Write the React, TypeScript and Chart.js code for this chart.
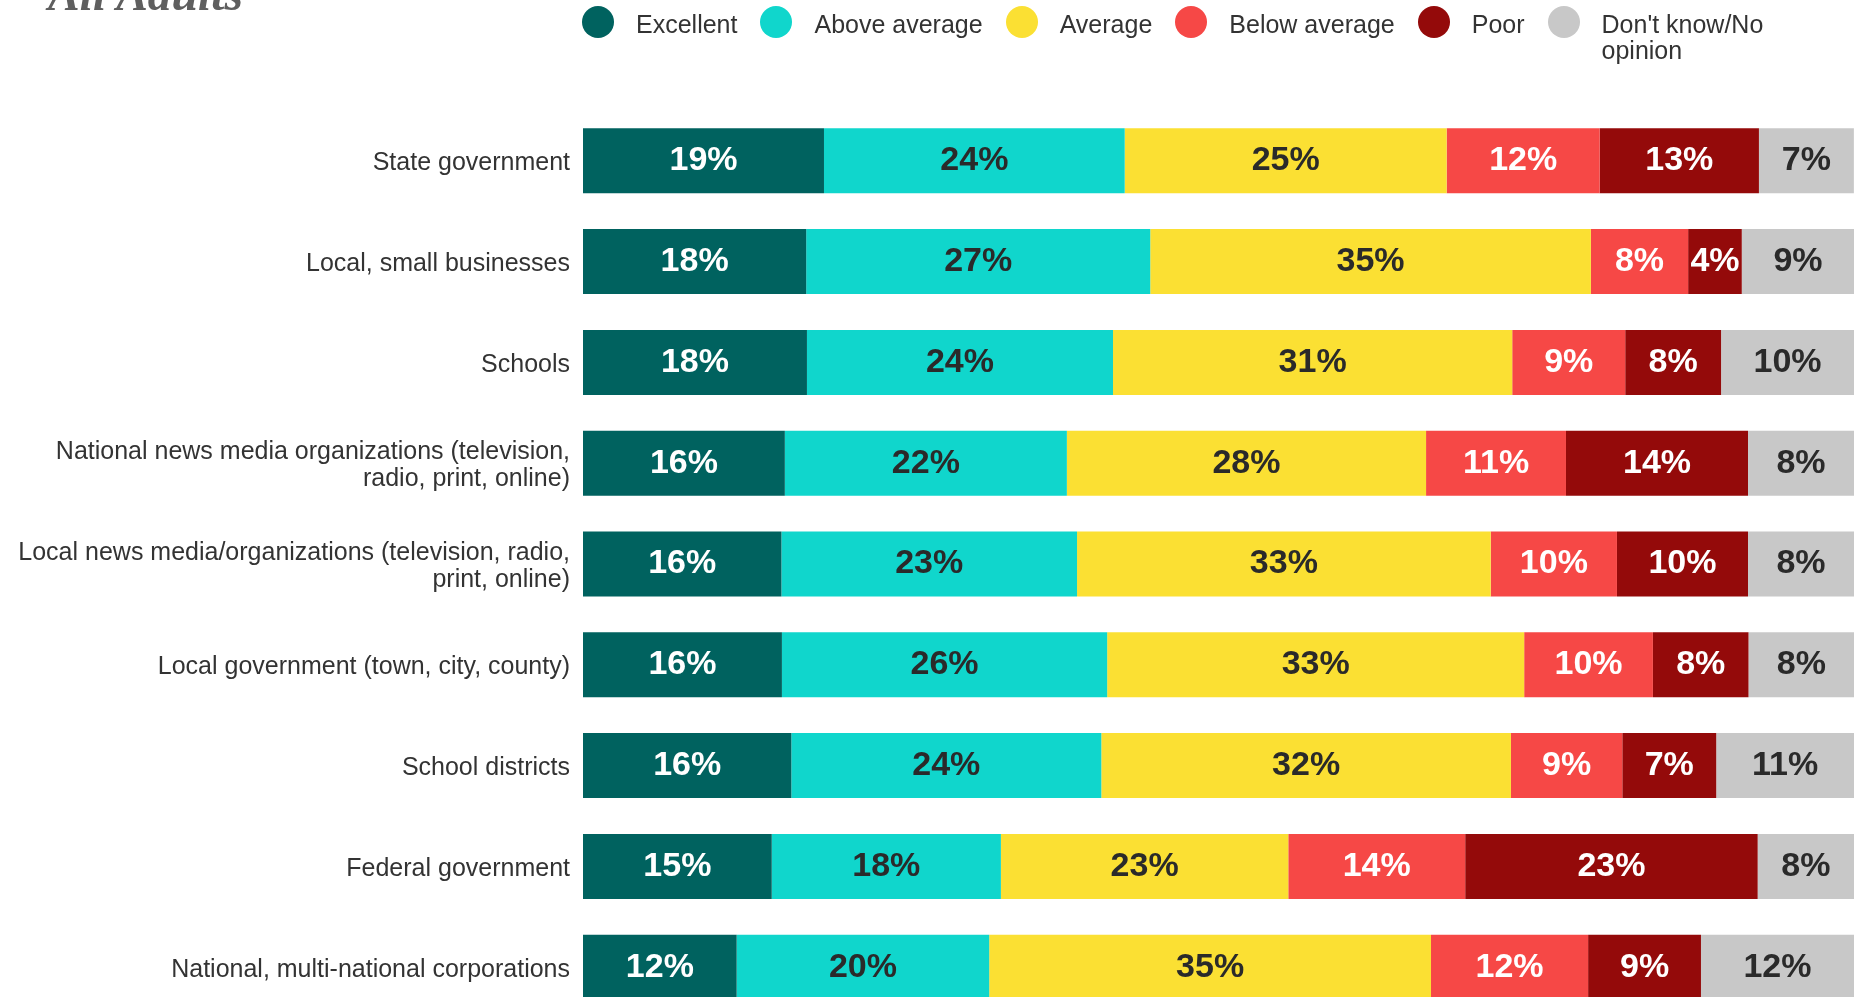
import React, { useEffect, useRef } from "react";
import { Chart, registerables } from "chart.js";

Chart.register(...registerables);

const categories: (string | string[])[] = [
  "State government",
  "Local, small businesses",
  "Schools",
  ["National news media organizations (television,", "radio, print, online)"],
  ["Local news media/organizations (television, radio,", "print, online)"],
  "Local government (town, city, county)",
  "School districts",
  "Federal government",
  "National, multi-national corporations",
];

const seriesNames = ["Excellent", "Above average", "Average", "Below average", "Poor", "Don't know/No opinion"];

const excellent = [18.96, 17.56, 17.62, 15.88, 15.61, 15.65, 16.39, 14.85, 12.09];
const aboveAverage = [23.66, 27.07, 24.08, 22.19, 23.26, 25.59, 24.39, 18.03, 19.87];
const average = [25.33, 34.67, 31.41, 28.26, 32.55, 32.81, 32.23, 22.61, 34.76];
const belowAverage = [12.04, 7.65, 8.89, 11.01, 9.93, 10.13, 8.76, 13.92, 12.36];
const poor = [12.53, 4.22, 7.54, 14.32, 10.31, 7.52, 7.39, 23.01, 8.88];
const dontKnow = [7.47, 8.84, 10.46, 8.34, 8.34, 8.32, 10.84, 7.58, 12.04];

const seriesColors = ["#00625F", "#10D6CC", "#FBE033", "#F64846", "#940A0A", "#C8C8C8"];
const labelColors = ["#FFFFFF", "#2A2A2A", "#2A2A2A", "#FFFFFF", "#FFFFFF", "#2A2A2A"];

const FONT = '"Liberation Sans", Arial, Helvetica, sans-serif';

const barLabelPlugin = {
  id: "barLabels",
  afterDatasetsDraw(chart: any) {
    const ctx = chart.ctx;
    ctx.save();
    ctx.font = `bold 34px ${FONT}`;
    ctx.textAlign = "center";
    ctx.textBaseline = "middle";
    chart.data.datasets.forEach((ds: any, di: number) => {
      const meta = chart.getDatasetMeta(di);
      if (meta.hidden) return;
      meta.data.forEach((el: any, i: number) => {
        const v = ds.data[i];
        const cx = (el.x + el.base) / 2;
        ctx.fillStyle = labelColors[di];
        ctx.fillText(`${Math.round(v)}%`, cx, el.y);
      });
    });
    ctx.restore();
  },
};

export default function App() {
  const canvasRef = useRef<HTMLCanvasElement | null>(null);

  useEffect(() => {
    if (!canvasRef.current) return;
    const all = [excellent, aboveAverage, average, belowAverage, poor, dontKnow];
    const chart = new Chart(canvasRef.current, {
      type: "bar",
      data: {
        labels: categories as any,
        datasets: all.map((d, i) => ({
          label: seriesNames[i],
          data: d,
          backgroundColor: seriesColors[i],
          borderWidth: 0,
          barPercentage: 1,
          categoryPercentage: 0.6446,
        })),
      },
      options: {
        indexAxis: "y",
        responsive: false,
        animation: false,
        devicePixelRatio: 1,
        layout: { padding: { top: 110.4, right: 7, bottom: 27.4, left: 0 } },
        plugins: {
          legend: { display: false },
          title: { display: false },
          tooltip: { enabled: false },
        },
        scales: {
          x: {
            type: "linear",
            stacked: true,
            min: 0,
            max: 100,
            display: false,
          },
          y: {
            stacked: true,
            grid: { display: false, drawTicks: false },
            border: { display: false },
            ticks: {
              padding: 13,
              labelOffset: 2.5,
              color: "#333333",
              font: { family: FONT, size: 25, lineHeight: 1.1 },
            },
            afterFit(scale: any) {
              scale.width = 583;
            },
          },
        },
      } as any,
      plugins: [barLabelPlugin],
    });
    return () => chart.destroy();
  }, []);

  return (
    <div
      style={{
        position: "absolute",
        top: 0,
        left: 0,
        width: 1861,
        height: 997,
        overflow: "hidden",
        background: "#ffffff",
      }}
    >
      <canvas
        ref={canvasRef}
        width={1861}
        height={1045}
        style={{ position: "absolute", top: 0, left: 0, width: 1861, height: 1045 }}
      />
      <div
        style={{
          position: "absolute",
          left: 48,
          top: -28.8,
          fontFamily: '"Liberation Serif", "DejaVu Serif", serif',
          fontWeight: "bold",
          fontStyle: "italic",
          fontSize: 47.5,
          lineHeight: 1,
          color: "#5F5F5F",
          whiteSpace: "nowrap",
        }}
      >
        All Adults
      </div>
      <div
        style={{
          position: "absolute",
          left: 582,
          top: 6,
          display: "flex",
          alignItems: "flex-start",
          gap: 23,
          fontFamily: FONT,
          fontSize: 25,
          color: "#333333",
        }}
      >
        {seriesNames.map((name, i) => (
          <div key={name} style={{ display: "flex", alignItems: "flex-start", gap: 22 }}>
            <span
              style={{
                display: "inline-block",
                width: 32,
                height: 32,
                borderRadius: "50%",
                background: seriesColors[i],
                flex: "0 0 auto",
              }}
            />
            <span
              style={{
                marginTop: 5,
                lineHeight: "26px",
                maxWidth: i === seriesNames.length - 1 ? 170 : undefined,
                whiteSpace: i === seriesNames.length - 1 ? "normal" : "nowrap",
              }}
            >
              {name}
            </span>
          </div>
        ))}
      </div>
    </div>
  );
}
